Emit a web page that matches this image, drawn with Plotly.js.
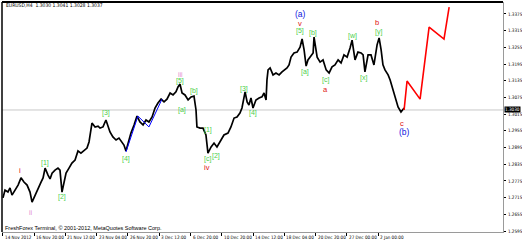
<!DOCTYPE html>
<html>
<head>
<meta charset="utf-8">
<script src="https://cdn.plot.ly/plotly-3.0.1.min.js"></script>
<style>html,body{margin:0;padding:0;background:#fff;}#chart{width:522px;height:241px;}</style>
</head>
<body>
<div id="chart"></div>
<script>
// ---- data (bar index, price) ----
const bars = [0,1.1,2.7,3.8,4.9,6.5,8.2,9.8,11.4,13.1,14.7,15.8,17.4,19.0,20.7,21.8,22.9,24.5,25.6,26.7,28.3,29.9,31.0,32.1,33.2,34.3,35.9,37.5,39.2,40.8,42.4,44.1,45.7,46.8,47.9,48.4,50.1,51.7,52.8,54.4,56.0,57.1,58.2,59.8,61.5,63.1,64.7,65.8,66.9,68.0,69.6,71.3,72.9,74.5,76.2,77.8,79.4,81.1,82.7,84.3,86.0,87.6,89.2,90.9,92.5,94.1,95.2,96.3,97.4,99.0,100.7,102.3,103.9,105.0,105.5,107.2,108.8,110.4,111.5,113.2,114.8,116.4,118.1,120.2,122.4,124.0,125.7,127.3,128.9,130.0,131.7,132.8,133.8,134.9,136.0,137.6,139.3,140.9,142.0,143.1,143.6,144.2,145.3,146.9,148.5,150.2,151.8,153.4,154.5,155.6,156.7,158.3,160.0,161.6,162.7,163.8,164.9,165.9,167.0,168.7,169.2,170.9,172.5,174.1,175.8,177.4,179.0,180.6,182.3,183.9,185.5,187.2,188.8,189.9,191.5,193.1,194.8,195.9,196.9,198.6,200.2,201.8,203.5,204.6,205.7,206.7,207.8,209.5,210.6,211.6,212.7,213.8,214.9,216.5,218.2];
const close = [1.2714,1.2742,1.2735,1.2750,1.2724,1.2742,1.2760,1.2786,1.2771,1.2760,1.2735,1.2699,1.2724,1.2750,1.2771,1.2786,1.2821,1.2796,1.2782,1.2803,1.2814,1.2821,1.2814,1.2735,1.2768,1.2803,1.2821,1.2839,1.2850,1.2883,1.2875,1.2886,1.2893,1.2915,1.2958,1.2983,1.2969,1.2972,1.2965,1.2969,1.2994,1.2976,1.2951,1.2933,1.2922,1.2929,1.2915,1.2904,1.2883,1.2911,1.2947,1.2976,1.3008,1.2987,1.2976,1.2994,1.2987,1.3005,1.3037,1.3055,1.3069,1.3059,1.3069,1.3091,1.3084,1.3095,1.3113,1.3123,1.3091,1.3084,1.3066,1.3077,1.3080,1.3030,1.2969,1.2965,1.2965,1.2940,1.2875,1.2897,1.2911,1.2897,1.2915,1.2940,1.2947,1.2969,1.3001,1.3005,1.3019,1.3037,1.3095,1.3059,1.3048,1.3073,1.3037,1.3066,1.3073,1.3077,1.3091,1.3066,1.3138,1.3174,1.3181,1.3156,1.3163,1.3156,1.3167,1.3174,1.3181,1.3192,1.3220,1.3235,1.3238,1.3256,1.3285,1.3246,1.3188,1.3210,1.3220,1.3235,1.3292,1.3220,1.3202,1.3210,1.3174,1.3163,1.3185,1.3192,1.3210,1.3199,1.3228,1.3220,1.3253,1.3281,1.3210,1.3238,1.3235,1.3228,1.3167,1.3228,1.3228,1.3192,1.3264,1.3289,1.3246,1.3192,1.3174,1.3156,1.3138,1.3113,1.3095,1.3066,1.3041,1.3023,1.3037];

const forecastBars = [218.2,219.8,226.9,231.8,239.9,242.7];
const forecastPrice = [1.3030,1.3134,1.3069,1.3328,1.3285,1.3400];

const blueBars = [66.9,73.4,79.4,86.5];
const bluePrice = [1.2879,1.3008,1.2969,1.3069];

const currentPrice = 1.3030;
const header = "EURUSD,H4  1.3030 1.3041 1.3028 1.3037";
const copyright = "FreshForex Terminal, \u00A9 2001-2012, MetaQuotes Software Corp.";

const timeTickBars = [0,17,34,51,68,85,102,119,136,153,170,187,204];
const timeTickLabels = ["14 Nov 2012","16 Nov 20:00","21 Nov 12:00","23 Nov 04:00","26 Nov 20:00","3 Dec 12:00","6 Dec 20:00","10 Dec 20:00","14 Dec 12:00","18 Dec 04:00","20 Dec 20:00","27 Dec 00:00","2 Jan 00:00"];
const priceTicks = [1.2595,1.2655,1.2715,1.2775,1.2835,1.2895,1.2955,1.3015,1.3075,1.3135,1.3195,1.3255,1.3315,1.3375];

// wave labels
const greenText = ["[1]","[2]","[3]","[4]","[5]","[a]","[b]","[1]","[c]","[2]","[3]","[4]","[5]","[a]","[b]","[c]","[w]","[x]","[y]"];
const greenBar  = [22.9,32.1,56.0,66.9,96.3,97.4,103.9,111.5,111.0,115.9,131.1,136.0,161.6,164.3,168.7,175.7,189.9,195.9,204.0];
const greenPrice= [1.2839,1.2717,1.3019,1.2854,1.3134,1.3030,1.3098,1.2958,1.2854,1.2865,1.3105,1.3019,1.3314,1.3167,1.3307,1.3138,1.3296,1.3145,1.3310];
const redText = ["i","iv","v","a","b","c"];
const redBar  = [9.2,111.0,161.6,175.2,203.5,217.1];
const redPrice= [1.2814,1.2825,1.3340,1.3105,1.3346,1.2983];
const pinkText = ["ii","iii"];
const pinkBar  = [15.2,96.3];
const pinkPrice= [1.2663,1.3159];
const blueText = ["(a)","(b)"];
const blueBar  = [161.6,218.2];
const bluePriceL= [1.3374,1.2951];

const FONT = "Liberation Sans, Arial, sans-serif";
const NARROW = "Liberation Sans Narrow, DejaVu Sans Condensed, Liberation Sans, sans-serif";

const traces = [
  {x: bars, y: close, type: "scatter", mode: "lines", line: {color: "#000", width: 1.7}, hoverinfo: "skip"},
  {x: blueBars, y: bluePrice, type: "scatter", mode: "lines", line: {color: "#0000ff", width: 1}, hoverinfo: "skip"},
  {x: forecastBars, y: forecastPrice, type: "scatter", mode: "lines", line: {color: "#ff0000", width: 1.6}, hoverinfo: "skip"}
];

const ann = [];
function addLabels(texts, xs, ys, color, size) {
  texts.forEach((t, i) => ann.push({x: xs[i], y: ys[i], xref: "x", yref: "y", text: t, showarrow: false,
    font: {family: FONT, size: size, color: color}, xanchor: "center", yanchor: "middle"}));
}
addLabels(greenText, greenBar, greenPrice, "#4ccf4c", 7);
addLabels(redText, redBar, redPrice, "#e01010", 7.5);
addLabels(pinkText, pinkBar, pinkPrice, "#e48ad0", 7);
addLabels(blueText, blueBar, bluePriceL, "#1020e0", 8.5);

timeTickBars.forEach((b, i) => ann.push({x: b, y: -0.022, xref: "x", yref: "paper", text: timeTickLabels[i],
  showarrow: false, xanchor: "left", yanchor: "middle", xshift: 0, font: {family: NARROW, size: 4.6, color: "#000"}}));

ann.push({x: 0.004, y: 0.988, xref: "paper", yref: "paper", text: header, showarrow: false, xanchor: "left", yanchor: "middle",
  font: {family: NARROW, size: 5, color: "#000"}});
ann.push({x: 0.002, y: 0.018, xref: "paper", yref: "paper", text: copyright, showarrow: false, xanchor: "left", yanchor: "middle",
  font: {family: FONT, size: 5.5, color: "#000"}});
ann.push({x: 1, y: currentPrice, xref: "paper", yref: "y", text: currentPrice.toFixed(4), showarrow: false, xanchor: "left",
  yanchor: "middle", xshift: 1, bgcolor: "#000", borderpad: 0, font: {family: NARROW, size: 4.6, color: "#fff"}});

const layout = {
  width: 522, height: 241,
  margin: {l: 2, r: 19, t: 2, b: 9, pad: 0},
  paper_bgcolor: "#fff", plot_bgcolor: "#fff",
  showlegend: false,
  xaxis: {range: [-0.54, 272], showgrid: false, zeroline: false, showline: true, linecolor: "#9a9a9a", linewidth: 1,
    tickmode: "array", tickvals: timeTickBars, ticks: "outside", ticklen: 3, tickcolor: "#000", tickwidth: 1, showticklabels: false, fixedrange: true},
  yaxis: {side: "right", range: [1.25914, 1.34181], showgrid: false, zeroline: false, showline: true, linecolor: "#9a9a9a", linewidth: 1,
    tickmode: "array", tickvals: priceTicks, ticktext: priceTicks.map(v => v.toFixed(4)), ticks: "outside", ticklen: 2, tickcolor: "#000",
    ticklabelstandoff: 1, tickfont: {family: NARROW, size: 4.6, color: "#000"}, fixedrange: true},
  shapes: [
    {type: "line", xref: "paper", yref: "y", x0: 0, x1: 1, y0: currentPrice, y1: currentPrice, line: {color: "#c8c8c8", width: 1}, layer: "below"},
    {type: "line", xref: "paper", yref: "paper", x0: 0, x1: 1, y0: 1, y1: 1, line: {color: "#000", width: 2}},
    {type: "line", xref: "paper", yref: "paper", x0: 0, x1: 0, y0: 0, y1: 1, line: {color: "#000", width: 1.5}}
  ],
  annotations: ann
};

Plotly.newPlot("chart", traces, layout, {staticPlot: true, displayModeBar: false});
</script>
</body>
</html>
